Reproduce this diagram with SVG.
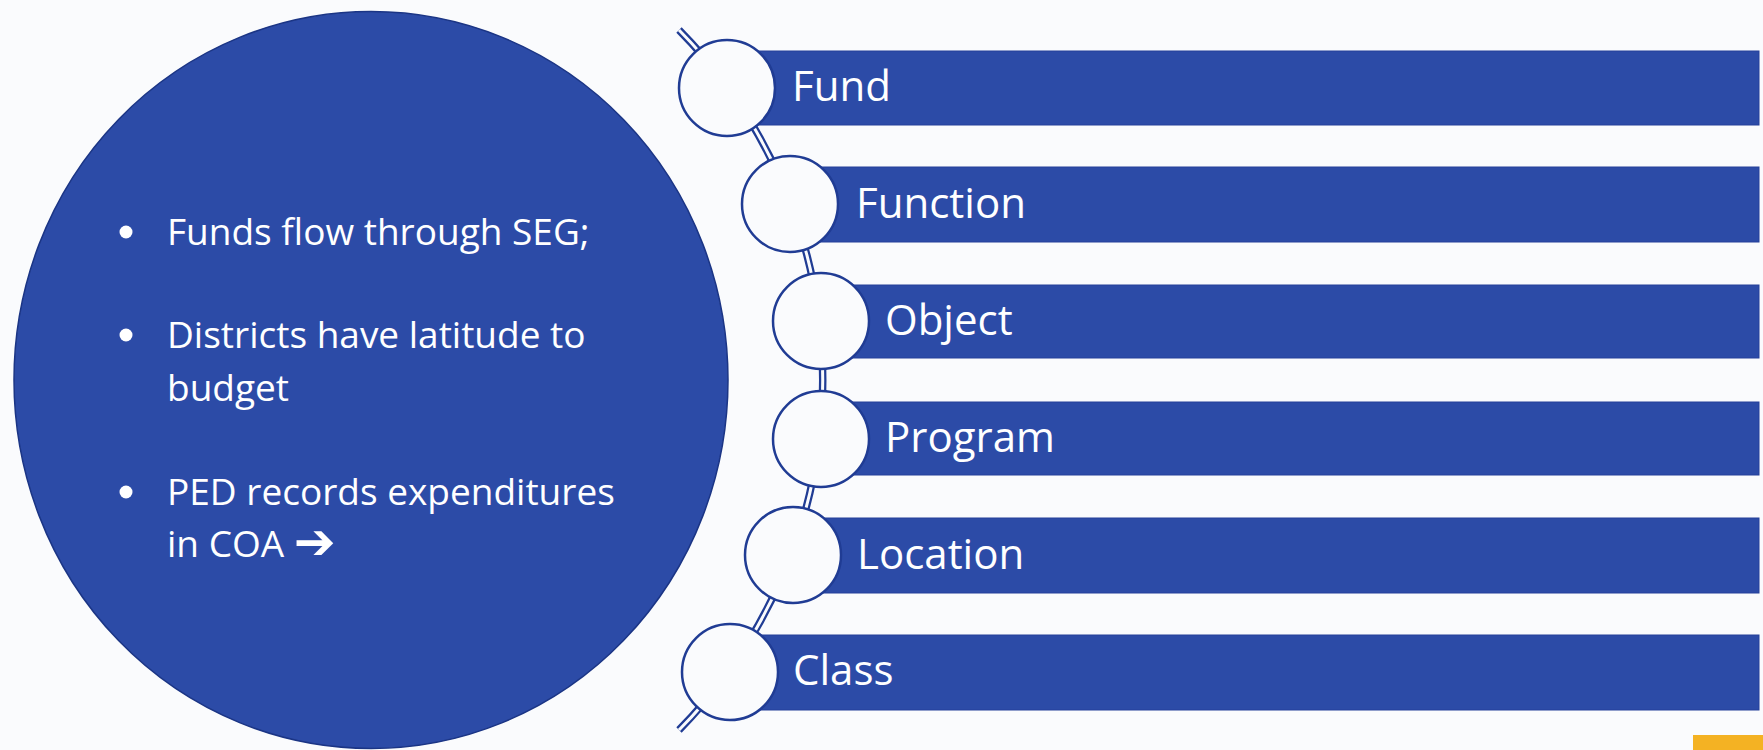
<svg xmlns="http://www.w3.org/2000/svg" width="1763" height="750" viewBox="0 0 1763 750">
<style>
.bar{fill:#2C4BA7;stroke:#24409a;stroke-width:1}
.dot{fill:#FAFBFD;stroke:#203C94;stroke-width:2.5}
.lbl{font-family:"Open Sans","Liberation Sans",sans-serif;font-size:42px;fill:#FFFFFF}
.txt{font-family:"Open Sans","Liberation Sans",sans-serif;font-size:37px;fill:#FFFFFF}
</style>
<rect width="1763" height="750" fill="#FAFBFD"/>
<g id="summary">
<ellipse cx="371" cy="380" rx="357" ry="368.5" fill="#2C4BA7" stroke="#1B3585" stroke-width="1.5"/>
<circle cx="126" cy="232" r="6.5" fill="#FFFFFF"/>
<circle cx="126" cy="335" r="6.5" fill="#FFFFFF"/>
<circle cx="126" cy="492" r="6.5" fill="#FFFFFF"/>
<text class="txt" x="167" y="245">Funds flow through SEG;</text>
<text class="txt" x="167" y="348">Districts have latitude to</text>
<text class="txt" x="167" y="401">budget</text>
<text class="txt" x="167" y="505">PED records expenditures</text>
<text class="txt" x="167" y="557">in COA <tspan font-family="DejaVu Sans, sans-serif" font-weight="bold" font-size="50px" dy="2">➔</tspan></text>
</g>
<g id="connectors">
<path d="M 679 30 A 498 498 0 0 1 679 730" fill="none" stroke="#203C94" stroke-width="7.5" stroke-linecap="butt"/>
<path d="M 679 30 A 498 498 0 0 1 679 730" fill="none" stroke="#FAFBFD" stroke-width="3"/>
</g>
<g id="fund">
<rect class="bar" x="726" y="51" width="1033" height="74"/>
<circle class="dot" cx="727" cy="88" r="48"/>
<text class="lbl" x="792" y="101">Fund</text>
</g>
<g id="function">
<rect class="bar" x="790" y="167" width="969" height="75"/>
<circle class="dot" cx="790" cy="204" r="48"/>
<text class="lbl" x="856" y="218">Function</text>
</g>
<g id="object">
<rect class="bar" x="821" y="285" width="938" height="73"/>
<circle class="dot" cx="821" cy="321" r="48"/>
<text class="lbl" x="885" y="335">Object</text>
</g>
<g id="program">
<rect class="bar" x="821" y="402" width="938" height="73"/>
<circle class="dot" cx="821" cy="439" r="48"/>
<text class="lbl" x="885" y="452">Program</text>
</g>
<g id="location">
<rect class="bar" x="793" y="518" width="966" height="75"/>
<circle class="dot" cx="793" cy="555" r="48"/>
<text class="lbl" x="857" y="569">Location</text>
</g>
<g id="class">
<rect class="bar" x="730" y="635" width="1029" height="75"/>
<circle class="dot" cx="730" cy="672" r="48"/>
<text class="lbl" x="793" y="685">Class</text>
</g>
<rect x="1693" y="735" width="70" height="15" fill="#F4B223"/>
</svg>
